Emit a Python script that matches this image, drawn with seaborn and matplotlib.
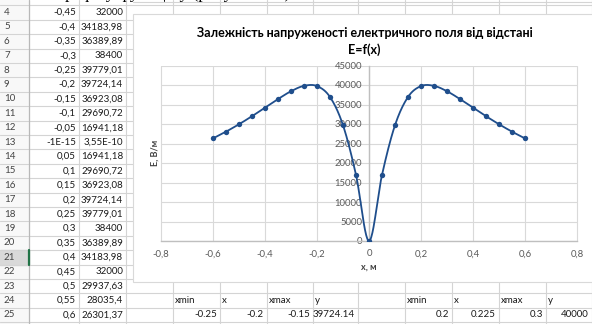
import numpy as np
import matplotlib
matplotlib.use("Agg")
import matplotlib.pyplot as plt
import seaborn as sns
from matplotlib.patches import Rectangle
from matplotlib.ticker import FuncFormatter, FixedLocator

# Field strength E(x) tabulated on the sheet (column B = x, column C = E)
x_m = [-0.6, -0.55, -0.5, -0.45, -0.4, -0.35, -0.3, -0.25, -0.2, -0.15, -0.1, -0.05, -1e-15,
       0.05, 0.1, 0.15, 0.2, 0.25, 0.3, 0.35, 0.4, 0.45, 0.5, 0.55, 0.6]
e_vm = [26301.37, 28035.4, 29937.63, 32000, 34183.98, 36389.89, 38400, 39779.01, 39724.14,
        36923.08, 29690.72, 16941.18, 3.55e-10, 16941.18, 29690.72, 36923.08, 39724.14,
        39779.01, 38400, 36389.89, 34183.98, 32000, 29937.63, 28035.4, 26301.37]
first_sheet_row = 1          # sheet row holding x_m[0]
first_shown_row = 4          # first sheet row visible in the window

# Maximum search blocks below the table
peak_headers = ["xmin", "x", "xmax", "y"]
peak_left = ["-0.25", "-0.2", "-0.15", "39724.14"]
peak_right = ["0.2", "0.225", "0.3", "40000"]

x_ticks = [-0.8, -0.6, -0.4, -0.2, 0.0, 0.2, 0.4, 0.6, 0.8]
y_ticks = [0, 5000, 10000, 15000, 20000, 25000, 30000, 35000, 40000, 45000]

title = "Залежність напруженості електричного поля від відстані"
subtitle = "E=f(x)"
x_label = "x, м"
y_label = "E, В/м"
page_line = "графіку функції у (рисунок 3.1)"

sns.set_theme(style="white")
plt.rcParams["font.family"] = ["Lato", "DejaVu Sans"]

W, H = 592, 324
fig = plt.figure(figsize=(W / 100, H / 100), dpi=100)
fig.patch.set_facecolor("white")

# Pixel-space layer for the worksheet
bg = fig.add_axes([0, 0, 1, 1])
bg.set_xlim(0, W)
bg.set_ylim(H, 0)
bg.axis("off")

GRID = "#d4d4d4"
TXT = "#1a1a1a"
ROW_H = 14.4
ROW0_Y = 12.5
chart_left, chart_top, chart_bottom = 133, 14, 282


def row_center(r):
    return ROW0_Y + (r - first_shown_row) * ROW_H


def excel_general(v):
    if v != 0 and abs(v) < 1e-4:
        mant, exp = f"{v:.2E}".split("E")
        mant = mant.rstrip("0").rstrip(".")
        s = f"{mant}E{int(exp):+d}"
    else:
        s = f"{v:.2f}".rstrip("0").rstrip(".")
    return s.replace(".", ",")


last_row = 25
# row header column
bg.add_patch(Rectangle((0, 0), 29, H, color="#f8f8f8", zorder=0))
sel = 21
yc = row_center(sel)
bg.add_patch(Rectangle((0, yc - ROW_H / 2), 29, ROW_H, color="#d9d9d9", zorder=0.5))

# horizontal cell borders
for r in range(first_shown_row - 1, last_row + 1):
    yb = row_center(r) + ROW_H / 2
    inside_chart = chart_top <= yb <= chart_bottom
    bg.plot([0, chart_left if inside_chart else W], [yb, yb], color=GRID, lw=0.8, zorder=1)

# vertical cell borders
for xv in [79, 126]:
    bg.plot([xv, xv], [0, H], color=GRID, lw=0.8, zorder=1)
bg.plot([29, 29], [0, H], color="#b8b8b8", lw=0.9, zorder=1)
bg.plot([29, 29], [yc - ROW_H / 2, yc + ROW_H / 2], color="#217346", lw=1.6, zorder=2)
col_edges = [126, 173, 220, 267, 313, 358, 405, 452, 499, 546, 592]
for xv in col_edges[1:]:
    bg.plot([xv, xv], [0, chart_top], color=GRID, lw=0.8, zorder=1)
    bg.plot([xv, xv], [chart_bottom, H], color=GRID, lw=0.8, zorder=1)
bg.plot([chart_left, W], [2, 2], color=GRID, lw=0.8, zorder=1)

# line of the document page showing above the sheet window
bg.text(290, -1.5, page_line, ha="right", va="baseline", fontsize=12.5,
        family=["Liberation Serif", "DejaVu Serif"], color="#000000", zorder=2)

# worksheet values
for i, (xv, ev) in enumerate(zip(x_m, e_vm)):
    r = first_sheet_row + i
    if r < first_shown_row:
        continue
    y = row_center(r)
    bg.text(4, y, str(r), ha="left", va="center", fontsize=7, color="#444444", zorder=3)
    bg.text(76, y, excel_general(xv), ha="right", va="center", fontsize=7, color=TXT, zorder=3)
    bg.text(123, y, excel_general(ev), ha="right", va="center", fontsize=7, color=TXT, zorder=3)

# peak blocks on rows 24-25
for block, start in ((peak_left, 1), (peak_right, 6)):
    for j, (hdr, val) in enumerate(zip(peak_headers, block)):
        l, rgt = col_edges[start + j], col_edges[start + j + 1]
        bg.text(l + 2, row_center(24), hdr, ha="left", va="center", fontsize=7, color=TXT, zorder=3)
        bg.text(rgt - 3, row_center(25), val, ha="right", va="center", fontsize=7, color=TXT, zorder=3)

# chart object frame
bg.add_patch(Rectangle((chart_left, chart_top), W - chart_left + 5, chart_bottom - chart_top,
                       facecolor="white", edgecolor="#d9d9d9", lw=0.8, zorder=4))
bg.text(365, 33, title, ha="center", va="center", fontsize=9, fontweight="bold", color="#000000", zorder=5)
bg.text(364, 50, subtitle, ha="center", va="center", fontsize=9, fontweight="bold", color="#000000", zorder=5)
bg.text(155, 153, y_label, rotation=90, ha="center", va="center", fontsize=6.5, fontweight="bold",
        color="#404040", zorder=5)
bg.text(369, 267, x_label, ha="center", va="center", fontsize=6.5, fontweight="bold",
        color="#404040", zorder=5)


def smooth_path(xs, ys, n=24):
    """Cubic Bezier through the points with Catmull-Rom style handles."""
    pts = np.column_stack([xs, ys]).astype(float)
    out = [pts[0]]
    t = np.linspace(0, 1, n)[1:, None]
    for i in range(len(pts) - 1):
        p0 = pts[max(i - 1, 0)]
        p1 = pts[i]
        p2 = pts[i + 1]
        p3 = pts[min(i + 2, len(pts) - 1)]
        c1 = p1 + (p2 - p0) / 6
        c2 = p2 - (p3 - p1) / 6
        seg = (1 - t) ** 3 * p1 + 3 * (1 - t) ** 2 * t * c1 + 3 * (1 - t) * t ** 2 * c2 + t ** 3 * p2
        out.extend(seg)
    return np.array(out)


# plot area
L, R, T, B = 161, 577, 65.5, 241
ax = fig.add_axes([L / W, 1 - B / H, (R - L) / W, (B - T) / H])
ax.set_zorder(6)
ax.set_facecolor("none")

curve = smooth_path(x_m, e_vm)
LINE = "#1f4e8c"
sns.lineplot(x=curve[:, 0], y=curve[:, 1], ax=ax, color=LINE, lw=1.3, sort=False, estimator=None,
             zorder=3)
sns.scatterplot(x=x_m, y=e_vm, ax=ax, color=LINE, s=15, edgecolor=LINE, linewidth=0, zorder=4)

ax.set_xlim(-0.8, 0.8)
ax.set_ylim(0, 45000)
ax.xaxis.set_major_locator(FixedLocator(x_ticks))
ax.yaxis.set_major_locator(FixedLocator(y_ticks))
ax.xaxis.set_major_formatter(FuncFormatter(lambda v, p: "0" if abs(v) < 1e-9 else f"{v:.1f}".replace(".", ",")))
ax.yaxis.set_major_formatter(FuncFormatter(lambda v, p: f"{int(round(v))}"))
ax.grid(True, color="#d9d9d9", lw=0.8)
for gl in ax.get_xgridlines() + ax.get_ygridlines():
    gl.set_clip_on(False)
ax.set_axisbelow(True)

for s in ("top", "right"):
    ax.spines[s].set_visible(False)
ax.spines["left"].set_position(("data", 0))
ax.spines["left"].set_color("#bfbfbf")
ax.spines["left"].set_linewidth(1.0)
ax.spines["bottom"].set_color("#bfbfbf")
ax.spines["bottom"].set_linewidth(1.0)
ax.tick_params(axis="both", length=0, labelsize=6.8, colors="#595959")
ax.tick_params(axis="y", pad=5)
ax.tick_params(axis="x", pad=6)
ax.set_xlabel("")
ax.set_ylabel("")

fig.savefig("out.png", dpi=100)
